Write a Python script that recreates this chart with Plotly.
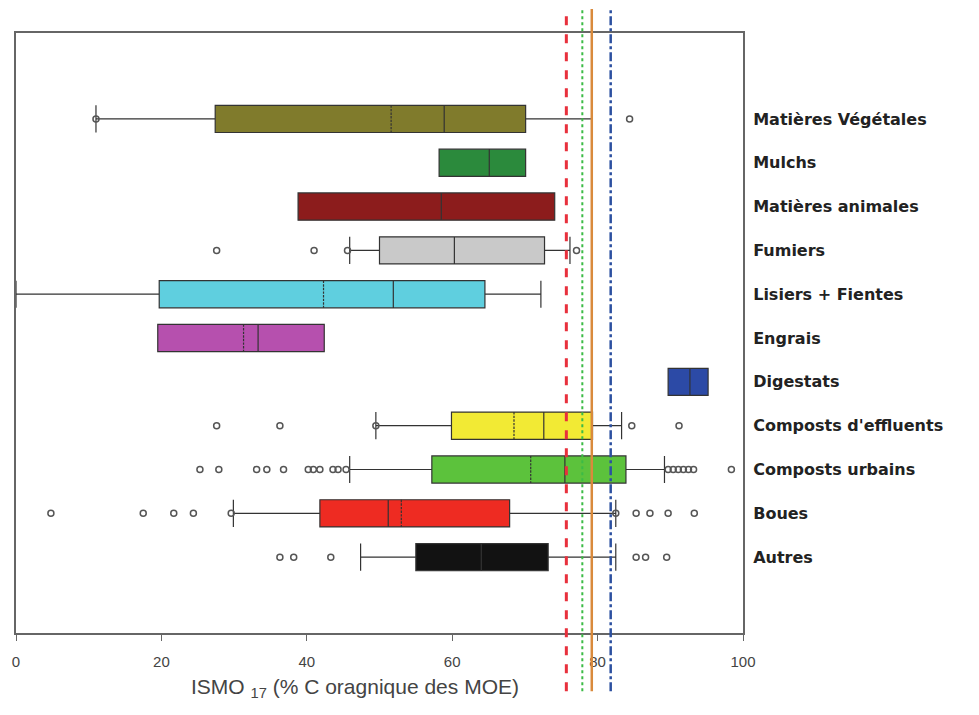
import plotly.graph_objects as go

categories = ["Matières Végétales", "Mulchs", "Matières animales", "Fumiers",
              "Lisiers + Fientes", "Engrais", "Digestats", "Composts d'effluents",
              "Composts urbains", "Boues", "Autres"]
colors = ["#807b2c", "#2b8a3c", "#8c1c1c", "#c9c9c9", "#5fcfdf", "#b650ae",
          "#2c4aa6", "#f2ea34", "#5cc23c", "#ee2b22", "#121212"]

q1 =     [27.4, 58.2, 38.8, 50.0, 19.7, 19.5, 89.7, 59.9, 57.2, 41.8, 55.0]
median = [58.9, 65.1, 58.5, 60.3, 51.9, 33.3, 92.7, 72.6, 75.5, 51.2, 64.0]
q3 =     [70.1, 70.1, 74.1, 72.7, 64.5, 42.4, 95.2, 79.3, 83.9, 67.9, 73.2]
lower =  [11.0, 58.2, 38.8, 45.9, 0.0, 19.5, 89.7, 49.5, 45.9, 29.9, 47.4]
upper =  [79.2, 70.1, 74.1, 76.2, 72.2, 42.4, 95.2, 83.3, 89.2, 82.5, 82.5]
means =  [51.6, None, None, None, 42.3, 31.3, None, 68.5, 70.8, 53.0, None]

outliers = [
    [11.0, 84.4],
    [],
    [],
    [27.6, 41.0, 45.6, 77.1],
    [],
    [],
    [],
    [27.6, 36.3, 49.5, 84.7, 91.2],
    [25.3, 27.9, 33.1, 34.5, 36.8, 40.2, 40.9, 41.8, 43.6, 44.3, 45.4,
     89.7, 90.4, 91.1, 91.8, 92.5, 93.2, 98.4],
    [4.8, 17.5, 21.7, 24.4, 29.6, 82.5, 85.3, 87.2, 89.7, 93.3],
    [36.3, 38.2, 43.3, 85.3, 86.6, 89.5],
]

ref_values = [75.7, 77.9, 79.2, 81.8]
ref_colors = ["#e8303c", "#3cbb46", "#d98a3c", "#2c50a0"]
ref_dash = ["dash", "dot", "solid", "dashdot"]
ref_width = [3, 2, 2.5, 2.5]

x_ticks = [0, 20, 40, 60, 80, 100]

fig = go.Figure()

for i, cat in enumerate(categories):
    kw = dict(
        y=[i], q1=[q1[i]], median=[median[i]], q3=[q3[i]],
        lowerfence=[lower[i]], upperfence=[upper[i]],
        orientation="h", name=cat, width=0.62,
        fillcolor=colors[i], line=dict(color="#333333", width=1.2),
        whiskerwidth=1, showlegend=False, boxpoints=False,
    )
    if means[i] is not None:
        kw["mean"] = [means[i]]
        kw["boxmean"] = True
    fig.add_trace(go.Box(**kw))
    if outliers[i]:
        fig.add_trace(go.Scatter(
            x=outliers[i], y=[i] * len(outliers[i]), mode="markers",
            marker=dict(symbol="circle-open", size=6, color="#555555",
                        line=dict(width=1.5)),
            showlegend=False, hoverinfo="x",
        ))

for v, c, d, w in zip(ref_values, ref_colors, ref_dash, ref_width):
    fig.add_shape(type="line", xref="x", yref="paper", x0=v, x1=v,
                  y0=-0.097, y1=1.04, line=dict(color=c, dash=d, width=w),
                  layer="above")

fig.update_layout(
    width=979, height=715,
    margin=dict(l=4, r=244, t=25, b=90),
    paper_bgcolor="white", plot_bgcolor="white",
    font=dict(family="Liberation Sans, Arial, sans-serif", color="#333333"),
    xaxis=dict(range=[0, 100], tickvals=x_ticks, ticks="outside", ticklen=6,
               tickcolor="#666666", showline=True, linecolor="#666666",
               linewidth=2, mirror=True, showgrid=False, zeroline=False,
               ticklabelstandoff=8,
               tickfont=dict(size=15, color="#444444")),
    yaxis=dict(range=[11.73, -1.96], tickvals=list(range(len(categories))),
               ticktext=categories, side="right", ticks="",
               showline=True, linecolor="#666666", linewidth=2, mirror=True,
               showgrid=False, zeroline=False, ticklabelstandoff=5,
               tickfont=dict(family="DejaVu Sans, sans-serif", size=16,
                             color="#222222", weight="bold")),
)

fig.add_annotation(text="ISMO <sub>17</sub> (% C oragnique des MOE)",
                   xref="paper", yref="paper", x=0.466, y=-0.092,
                   yanchor="middle", showarrow=False,
                   font=dict(size=21, color="#444444"))

fig.write_html("out.html")
